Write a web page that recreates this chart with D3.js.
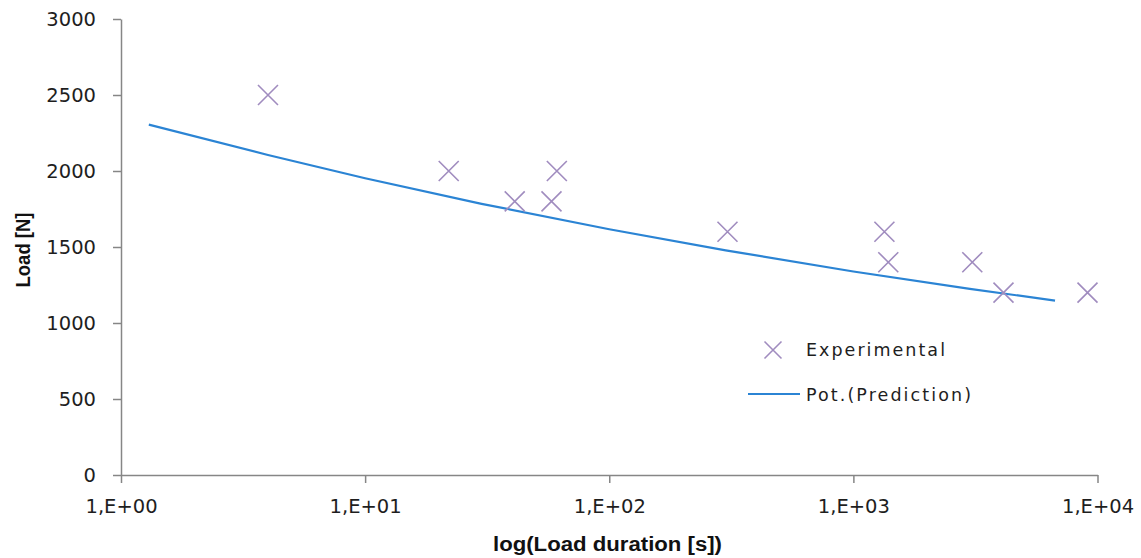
<!DOCTYPE html>
<html>
<head>
<meta charset="utf-8">
<script src="https://cdn.jsdelivr.net/npm/d3@7/dist/d3.min.js"></script>
<style>
  html, body { margin: 0; padding: 0; background: #fff; }
  svg { display: block; }
</style>
</head>
<body>
<svg id="chart" width="1141" height="558"></svg>
<script>
// Measured load durations [s] and loads [N]
const expDuration = [4, 22, 41, 58, 61, 305, 1340, 1390, 3070, 4120, 9100];
const expLoad     = [2500, 2000, 1800, 1800, 2000, 1600, 1600, 1400, 1400, 1200, 1200];

// Power-law prediction curve, sampled along the duration range
const predDuration = [1.3, 4, 10, 30, 100, 300, 1000, 3000, 6700];
const predLoad     = [2305, 2105, 1952, 1784, 1617, 1478, 1339, 1225, 1147];

const xTicks = [1, 10, 100, 1000, 10000];
const yTicks = [0, 500, 1000, 1500, 2000, 2500, 3000];

const seriesNames = ["Experimental", "Pot.(Prediction)"];

const svg = d3.select("#chart");
const axisColor = "#868686";
const markColor = "#a08cbf";
const lineColor = "#2b84d4";
const tickFont = "'DejaVu Sans', Verdana, sans-serif";
const titleFont = "'Liberation Sans Narrow', 'Arial Narrow', 'Liberation Sans', Arial, sans-serif";

const x = d3.scaleLog().domain([1, 10000]).range([121, 1097.5]);
const y = d3.scaleLinear().domain([0, 3000]).range([475, 19]);

const fmtExp = d => "1,E+" + String(Math.round(Math.log10(d))).padStart(2, "0");

// Y axis
const yAxis = svg.append("g")
  .attr("transform", `translate(${x.range()[0]},0)`)
  .call(d3.axisLeft(y).tickValues(yTicks).tickFormat(d3.format("d"))
    .tickSize(8).tickPadding(17).tickSizeOuter(0));
yAxis.select(".domain").attr("stroke", axisColor).attr("stroke-width", 1.5);
yAxis.selectAll(".tick line").attr("stroke", axisColor).attr("stroke-width", 1.5);
yAxis.selectAll(".tick text")
  .attr("fill", "#1e1e1e")
  .style("font-family", tickFont)
  .style("font-size", "19.5px");

// X axis
const xAxis = svg.append("g")
  .attr("transform", `translate(0,${y(0)})`)
  .call(d3.axisBottom(x).tickValues(xTicks).tickFormat(fmtExp).tickSize(8).tickPadding(16).tickSizeOuter(0));
xAxis.select(".domain").attr("stroke", axisColor).attr("stroke-width", 1.5);
xAxis.selectAll(".tick line").attr("stroke", axisColor).attr("stroke-width", 1.5);
xAxis.selectAll(".tick text")
  .attr("fill", "#1e1e1e")
  .style("font-family", tickFont)
  .style("font-size", "19.5px");

// Axis titles
svg.append("text")
  .attr("x", 607.5).attr("y", 551)
  .attr("text-anchor", "middle")
  .attr("textLength", 229).attr("lengthAdjust", "spacingAndGlyphs")
  .style("font-family", titleFont).style("font-weight", "bold").style("font-size", "20px")
  .attr("fill", "#111")
  .text("log(Load duration [s])");

svg.append("text")
  .attr("transform", "translate(30,250) rotate(-90)")
  .attr("text-anchor", "middle")
  .attr("textLength", 75).attr("lengthAdjust", "spacingAndGlyphs")
  .style("font-family", titleFont).style("font-weight", "bold").style("font-size", "20px")
  .attr("fill", "#111")
  .text("Load [N]");

// Prediction line
const pred = predDuration.map((d, i) => [d, predLoad[i]]);
svg.append("path")
  .datum(pred)
  .attr("fill", "none")
  .attr("stroke", lineColor)
  .attr("stroke-width", 2.2)
  .attr("d", d3.line().x(d => x(d[0])).y(d => y(d[1])));

// Experimental markers (X shape)
const cross = (g, cx, cy, r) => g.append("path")
  .attr("d", `M${cx - r},${cy - r}L${cx + r},${cy + r}M${cx - r},${cy + r}L${cx + r},${cy - r}`)
  .attr("stroke", markColor)
  .attr("stroke-width", 1.6)
  .attr("fill", "none");

const marks = svg.append("g");
expDuration.forEach((d, i) => cross(marks, x(d), y(expLoad[i]), 10));

// Legend
const legend = svg.append("g");
cross(legend, 773, 350, 8.5);
legend.append("text")
  .attr("x", 806).attr("y", 350).attr("dy", "0.35em")
  .attr("textLength", 139).attr("lengthAdjust", "spacing")
  .style("font-family", tickFont).style("font-size", "17.5px")
  .attr("fill", "#1e1e1e")
  .text(seriesNames[0]);
legend.append("line")
  .attr("x1", 748).attr("x2", 800).attr("y1", 394).attr("y2", 394)
  .attr("stroke", lineColor).attr("stroke-width", 2.2);
legend.append("text")
  .attr("x", 806).attr("y", 395).attr("dy", "0.35em")
  .attr("textLength", 165).attr("lengthAdjust", "spacing")
  .style("font-family", tickFont).style("font-size", "17.5px")
  .attr("fill", "#1e1e1e")
  .text(seriesNames[1]);
</script>
</body>
</html>
